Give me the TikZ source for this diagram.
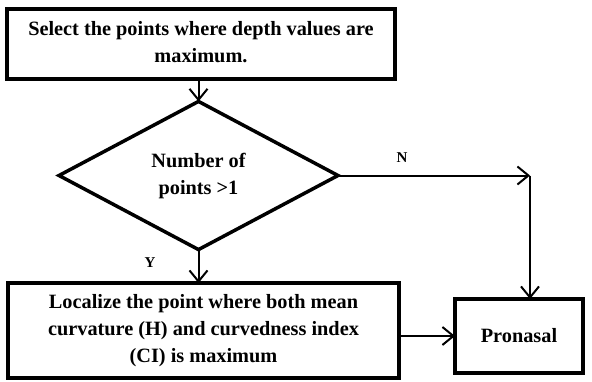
\documentclass[tikz,border=0pt]{standalone}
\usepackage{fontspec}
\setmainfont{Liberation Serif}
\usetikzlibrary{shapes.geometric,arrows.meta}
\newcommand{\lowertext}[2]{\raisebox{-#1}{\begin{tabular}{@{}c@{}}#2\end{tabular}}}
\tikzset{
  boxstyle/.style={draw, line width=3.5pt, rectangle, inner sep=0pt, outer sep=0pt, align=center,
    font=\fontsize{20.3}{27}\selectfont\bfseries},
  decstyle/.style={draw, line width=3.5pt, diamond, inner sep=0pt, outer sep=0pt, align=center,
    minimum width=279pt, minimum height=145pt, font=\fontsize{20.3}{27}\selectfont\bfseries},
  arr/.style={line width=2pt, -{Straight Barb[length=11pt, width=18pt, line width=2pt]}},
  lbl/.style={font=\fontsize{15}{16}\selectfont\bfseries, inner sep=0pt}
}
\begin{document}
\begin{tikzpicture}[x=1pt,y=-1pt]
\useasboundingbox (0,0) rectangle (592,381);
\fill[white] (0,0) rectangle (592,381);
\node[boxstyle, minimum width=388pt, minimum height=70pt] (top) at (201,44)
  {\lowertext{4pt}{Select the points where depth values are\\maximum.}};
\node[decstyle] (dia) at (198.5,175.5) {\lowertext{6pt}{Number of\\points >1}};
\node[boxstyle, minimum width=391pt, minimum height=95pt] (low) at (203.5,330.5)
  {\lowertext{4pt}{Localize the point where both mean\\curvature (H) and curvedness index\\(CI) is maximum}};
\node[boxstyle, minimum width=128pt, minimum height=74pt] (pro) at (519,336) {Pronasal};
\coordinate (c) at (530,175.5);
\draw[arr] (dia.north |- top.south) -- (dia.north);
\draw[arr] (dia.south) -- (dia.south |- low.north);
\draw[arr] (dia.east) -- (c);
\draw[arr] (c) -- (c |- pro.north);
\draw[arr] (low.east |- pro.west) -- (pro.west);
\node[lbl] (n) at (402,158) {N};
\node[lbl] (y) at (150,263) {Y};
\end{tikzpicture}
\end{document}
